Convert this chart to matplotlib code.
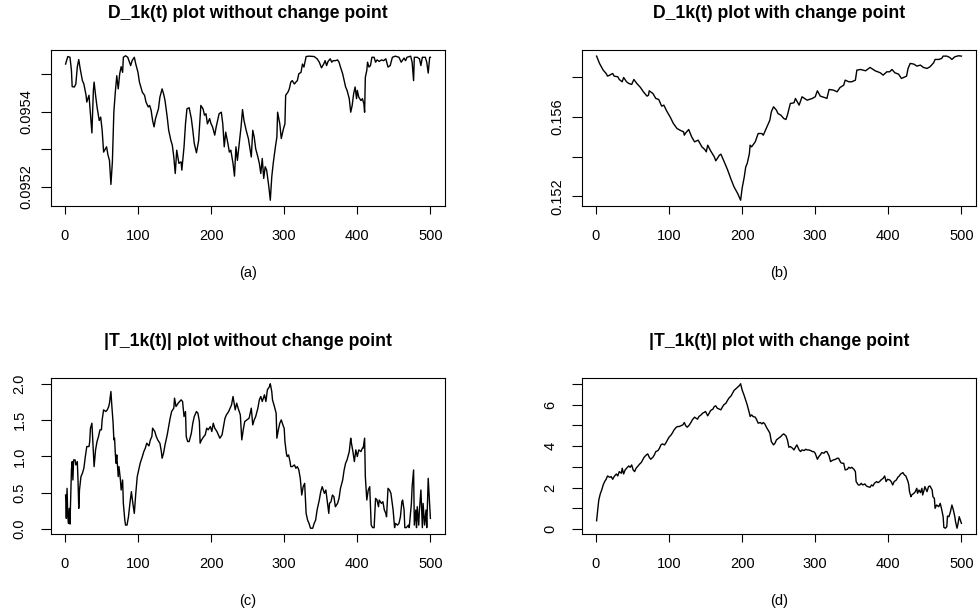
import numpy as np
import matplotlib
matplotlib.use('Agg')
import matplotlib.pyplot as plt

plt.rcParams['font.family'] = ['Liberation Sans', 'DejaVu Sans']

# (a) D_1k(t) without change point
t_a = [1, 4, 7, 9, 10, 13, 15, 17, 19, 21,
       24, 26, 29, 30, 33, 35, 37, 39, 40, 42,
       44, 47, 49, 51, 53, 57, 59, 61, 63, 65,
       67, 69, 71, 73, 75, 77, 79, 80, 83, 86,
       90, 92, 95, 97, 100, 102, 106, 109, 111, 114,
       116, 118, 120, 122, 124, 126, 128, 130, 133, 135,
       137, 140, 142, 145, 147, 149, 151, 153, 156, 159,
       160, 163, 165, 167, 170, 173, 175, 177, 180, 183,
       186, 189, 191, 193, 195, 198, 200, 202, 205, 207,
       209, 211, 214, 216, 218, 220, 223, 225, 227, 230,
       232, 234, 236, 239, 241, 243, 245, 248, 251, 255,
       257, 259, 261, 264, 266, 268, 270, 272, 274, 276,
       279, 281, 283, 285, 288, 290, 291, 294, 296, 299,
       301, 302, 305, 307, 309, 311, 314, 316, 318, 320,
       323, 325, 327, 330, 334, 341, 345, 348, 351, 354,
       356, 358, 360, 363, 365, 367, 370, 373, 375, 377,
       380, 382, 384, 386, 389, 391, 393, 395, 397, 399,
       400, 402, 405, 407, 409, 410, 411, 413, 414, 416,
       418, 420, 423, 425, 427, 430, 433, 436, 439, 442,
       445, 448, 452, 457, 460, 464, 466, 468, 473, 475,
       477, 478, 482, 485, 487, 489, 493, 495, 497, 499,
       500]
d_a = [0.095527, 0.095547, 0.095545, 0.095510, 0.095467, 0.095466, 0.095474, 0.095519, 0.095539, 0.095514,
       0.095483, 0.095474, 0.095444, 0.095426, 0.095444, 0.095395, 0.095344, 0.095457, 0.095479, 0.095444,
       0.095413, 0.095377, 0.095386, 0.095351, 0.095293, 0.095307, 0.095285, 0.095271, 0.095207, 0.095267,
       0.095399, 0.095452, 0.095496, 0.095461, 0.095501, 0.095520, 0.095505, 0.095545, 0.095549, 0.095545,
       0.095523, 0.095536, 0.095545, 0.095527, 0.095505, 0.095479, 0.095452, 0.095444, 0.095426, 0.095413,
       0.095417, 0.095404, 0.095377, 0.095360, 0.095382, 0.095395, 0.095408, 0.095439, 0.095461, 0.095448,
       0.095430, 0.095386, 0.095351, 0.095324, 0.095311, 0.095280, 0.095236, 0.095298, 0.095263, 0.095267,
       0.095245, 0.095307, 0.095368, 0.095408, 0.095411, 0.095382, 0.095351, 0.095316, 0.095291, 0.095324,
       0.095417, 0.095408, 0.095391, 0.095395, 0.095368, 0.095382, 0.095368, 0.095360, 0.095338, 0.095360,
       0.095377, 0.095395, 0.095399, 0.095368, 0.095307, 0.095346, 0.095316, 0.095293, 0.095298, 0.095263,
       0.095229, 0.095307, 0.095271, 0.095324, 0.095360, 0.095406, 0.095377, 0.095351, 0.095329, 0.095280,
       0.095351, 0.095333, 0.095302, 0.095280, 0.095263, 0.095236, 0.095276, 0.095223, 0.095254, 0.095245,
       0.095201, 0.095165, 0.095227, 0.095263, 0.095307, 0.095333, 0.095399, 0.095368, 0.095329, 0.095355,
       0.095368, 0.095444, 0.095452, 0.095461, 0.095479, 0.095483, 0.095474, 0.095479, 0.095483, 0.095501,
       0.095505, 0.095527, 0.095519, 0.095547, 0.095548, 0.095547, 0.095541, 0.095532, 0.095517, 0.095527,
       0.095536, 0.095523, 0.095534, 0.095541, 0.095532, 0.095536, 0.095536, 0.095538, 0.095532, 0.095519,
       0.095501, 0.095483, 0.095466, 0.095457, 0.095435, 0.095399, 0.095417, 0.095448, 0.095466, 0.095435,
       0.095457, 0.095439, 0.095430, 0.095435, 0.095421, 0.095399, 0.095492, 0.095510, 0.095532, 0.095519,
       0.095523, 0.095545, 0.095545, 0.095532, 0.095538, 0.095534, 0.095538, 0.095536, 0.095541, 0.095519,
       0.095523, 0.095545, 0.095548, 0.095545, 0.095532, 0.095543, 0.095536, 0.095545, 0.095548, 0.095532,
       0.095483, 0.095545, 0.095545, 0.095541, 0.095523, 0.095545, 0.095545, 0.095532, 0.095503, 0.095545,
       0.095545]

# (b) D_1k(t) with change point
t_b = [1, 5, 10, 14, 16, 19, 23, 25, 30, 32,
       36, 38, 42, 45, 49, 52, 56, 61, 65, 70,
       72, 73, 78, 82, 86, 90, 93, 97, 102, 106,
       111, 115, 120, 121, 123, 127, 131, 135, 140, 145,
       149, 151, 153, 157, 162, 164, 169, 171, 175, 180,
       185, 189, 194, 198, 200, 203, 205, 207, 210, 211,
       213, 218, 222, 227, 229, 234, 238, 240, 243, 247,
       249, 253, 257, 260, 262, 266, 271, 273, 278, 282,
       289, 296, 300, 303, 307, 314, 316, 319, 325, 330,
       334, 339, 341, 346, 350, 355, 357, 362, 369, 375,
       382, 389, 393, 398, 402, 405, 409, 414, 418, 423,
       425, 427, 430, 435, 439, 444, 448, 453, 457, 462,
       464, 469, 473, 475, 480, 484, 487, 491, 496, 500]
d_b = [0.159078, 0.158708, 0.158371, 0.158202, 0.158067, 0.158118, 0.158202, 0.158067, 0.158034, 0.157899,
       0.157781, 0.158000, 0.157781, 0.157697, 0.157646, 0.157899, 0.157697, 0.157494, 0.157275, 0.157056,
       0.157107, 0.157326, 0.157191, 0.156938, 0.156888, 0.156551, 0.156601, 0.156298, 0.155978, 0.155675,
       0.155422, 0.155338, 0.155253, 0.155085, 0.155203, 0.155371, 0.155001, 0.154748, 0.154832, 0.154495,
       0.154360, 0.154242, 0.154579, 0.154293, 0.153990, 0.153788, 0.154074, 0.154125, 0.153788, 0.153349,
       0.152844, 0.152473, 0.152136, 0.151799, 0.152389, 0.152979, 0.153484, 0.153653, 0.154158, 0.154579,
       0.154495, 0.154748, 0.155169, 0.155169, 0.155085, 0.155506, 0.155843, 0.156264, 0.156517, 0.156349,
       0.156180, 0.156096, 0.155927, 0.155877, 0.156096, 0.156686, 0.156719, 0.156938, 0.156601, 0.157023,
       0.156854, 0.156938, 0.157023, 0.157326, 0.157056, 0.156972, 0.156938, 0.157393, 0.157360, 0.157275,
       0.157494, 0.157612, 0.157865, 0.157781, 0.157781, 0.157865, 0.158371, 0.158404, 0.158337, 0.158506,
       0.158337, 0.158236, 0.158118, 0.158286, 0.158286, 0.158404, 0.158236, 0.158169, 0.157949, 0.158034,
       0.158067, 0.158455, 0.158708, 0.158674, 0.158573, 0.158624, 0.158506, 0.158455, 0.158539, 0.158741,
       0.158910, 0.158910, 0.158960, 0.159078, 0.159078, 0.159011, 0.158910, 0.159045, 0.159095, 0.159078]

# (c) |T_1k(t)| without change point
t_c = [1, 2, 3, 4, 5, 6, 7, 8, 9, 10,
       11, 12, 14, 15, 17, 18, 19, 20, 22, 24,
       26, 28, 30, 33, 34, 35, 37, 39, 40, 42,
       44, 46, 48, 50, 51, 53, 56, 58, 60, 61,
       63, 64, 66, 67, 68, 69, 70, 71, 73, 74,
       76, 77, 79, 80, 82, 83, 85, 87, 89, 91,
       93, 95, 97, 99, 101, 103, 106, 108, 110, 112,
       115, 117, 119, 120, 123, 125, 127, 130, 132, 133,
       135, 137, 140, 142, 144, 146, 149, 150, 152, 155,
       157, 159, 161, 163, 165, 166, 168, 170, 173, 175,
       177, 180, 182, 184, 185, 187, 190, 192, 194, 196,
       199, 201, 203, 205, 208, 210, 212, 215, 217, 219,
       221, 224, 226, 228, 230, 233, 235, 237, 240, 242,
       244, 246, 249, 252, 255, 257, 259, 261, 264, 266,
       268, 270, 273, 275, 277, 280, 281, 283, 284, 286,
       289, 290, 292, 294, 296, 299, 300, 301, 303, 304,
       306, 308, 309, 311, 314, 316, 318, 320, 322, 324,
       326, 328, 330, 332, 334, 336, 339, 341, 343, 345,
       348, 350, 352, 355, 357, 359, 361, 362, 364, 366,
       368, 370, 373, 375, 377, 380, 382, 384, 386, 389,
       391, 392, 394, 396, 398, 400, 402, 405, 407, 408,
       410, 411, 413, 415, 417, 419, 421, 423, 425, 427,
       429, 430, 433, 435, 437, 439, 440, 442, 444, 446,
       449, 451, 452, 455, 457, 459, 461, 462, 464, 465,
       467, 470, 471, 474, 475, 477, 478, 480, 481, 482,
       484, 485, 487, 489, 490, 492, 494, 495, 497, 500]
T_c = [0.469, 0.147, 0.561, 0.170, 0.078, 0.285, 0.069, 0.446, 0.814, 0.929,
       0.676, 0.952, 0.952, 0.883, 0.929, 0.676, 0.285, 0.538, 0.722, 0.768,
       0.837, 0.998, 1.136, 1.136, 1.205, 1.389, 1.457, 1.044, 0.860, 1.090,
       1.205, 1.274, 1.366, 1.366, 1.503, 1.641, 1.618, 1.641, 1.687, 1.733,
       1.894, 1.733, 1.457, 1.228, 1.251, 1.044, 0.906, 1.021, 0.722, 0.860,
       0.676, 0.538, 0.676, 0.354, 0.124, 0.055, 0.055, 0.170, 0.354, 0.515,
       0.354, 0.216, 0.492, 0.722, 0.814, 0.906, 0.998, 1.067, 1.113, 1.182,
       1.145, 1.228, 1.274, 1.389, 1.343, 1.274, 1.228, 1.182, 1.067, 0.975,
       1.044, 1.159, 1.297, 1.411, 1.526, 1.618, 1.664, 1.802, 1.687, 1.733,
       1.756, 1.779, 1.756, 1.549, 1.618, 1.274, 1.205, 1.205, 1.320, 1.457,
       1.549, 1.618, 1.595, 1.480, 1.182, 1.228, 1.274, 1.297, 1.389, 1.366,
       1.411, 1.343, 1.457, 1.389, 1.343, 1.297, 1.251, 1.297, 1.411, 1.526,
       1.572, 1.618, 1.664, 1.710, 1.825, 1.641, 1.733, 1.664, 1.572, 1.228,
       1.366, 1.480, 1.503, 1.526, 1.664, 1.434, 1.503, 1.549, 1.664, 1.779,
       1.825, 1.756, 1.848, 1.756, 1.917, 1.963, 2.000, 1.894, 1.779, 1.710,
       1.595, 1.251, 1.366, 1.457, 1.503, 1.411, 1.389, 1.205, 1.044, 0.998,
       1.021, 0.929, 0.860, 0.860, 0.883, 0.837, 0.860, 0.814, 0.699, 0.469,
       0.584, 0.630, 0.216, 0.124, 0.078, 0.012, 0.012, 0.078, 0.124, 0.262,
       0.400, 0.515, 0.584, 0.492, 0.538, 0.377, 0.216, 0.354, 0.377, 0.469,
       0.446, 0.308, 0.354, 0.423, 0.561, 0.676, 0.814, 0.906, 0.952, 1.067,
       1.251, 1.182, 1.067, 0.929, 1.090, 0.998, 1.090, 1.067, 1.113, 1.113,
       1.251, 0.722, 0.400, 0.538, 0.584, 0.055, 0.020, 0.020, 0.423, 0.400,
       0.308, 0.400, 0.354, 0.377, 0.262, 0.216, 0.170, 0.561, 0.538, 0.492,
       0.262, 0.020, 0.078, 0.055, 0.078, 0.170, 0.377, 0.400, 0.262, 0.020,
       0.020, 0.055, 0.020, 0.354, 0.584, 0.814, 0.055, 0.262, 0.020, 0.308,
       0.055, 0.262, 0.538, 0.020, 0.354, 0.055, 0.262, 0.020, 0.699, 0.147]

# (d) |T_1k(t)| with change point
t_d = [1, 2, 3, 4, 6, 8, 10, 12, 14, 16,
       19, 21, 23, 25, 28, 30, 32, 35, 36, 38,
       40, 42, 45, 47, 49, 51, 53, 55, 57, 60,
       62, 64, 66, 69, 71, 73, 75, 78, 80, 82,
       85, 87, 89, 91, 94, 96, 98, 100, 103, 105,
       107, 110, 112, 114, 116, 119, 121, 123, 125, 128,
       130, 132, 135, 137, 139, 141, 144, 146, 148, 150,
       153, 155, 157, 160, 162, 164, 166, 169, 171, 173,
       175, 178, 180, 182, 185, 187, 189, 191, 194, 196,
       198, 200, 203, 205, 207, 210, 211, 213, 215, 218,
       220, 222, 225, 227, 229, 231, 234, 236, 238, 240,
       243, 245, 247, 250, 253, 255, 257, 260, 262, 264,
       266, 269, 271, 273, 275, 278, 280, 282, 285, 287,
       289, 291, 294, 296, 298, 300, 303, 305, 307, 309,
       312, 314, 316, 319, 321, 323, 325, 328, 330, 332,
       335, 337, 339, 341, 344, 346, 348, 350, 353, 355,
       356, 359, 361, 363, 365, 368, 370, 372, 375, 377,
       379, 381, 384, 386, 388, 390, 393, 395, 397, 399,
       402, 404, 406, 408, 411, 413, 415, 417, 420, 422,
       424, 427, 428, 429, 431, 432, 435, 437, 439, 440,
       442, 444, 446, 447, 449, 450, 453, 455, 457, 460,
       461, 463, 464, 466, 469, 471, 473, 475, 476, 478,
       480, 481, 483, 485, 487, 489, 491, 492, 494, 495,
       497, 500]
T_d = [0.400, 0.757, 1.079, 1.401, 1.691, 1.884, 2.126, 2.287, 2.399, 2.560,
       2.496, 2.528, 2.399, 2.528, 2.657, 2.560, 2.770, 2.689, 2.931, 2.657,
       2.850, 2.931, 3.043, 2.979, 3.092, 2.850, 2.770, 2.931, 3.011, 3.140,
       3.204, 3.333, 3.462, 3.575, 3.623, 3.462, 3.366, 3.462, 3.575, 3.736,
       3.784, 3.897, 4.058, 4.106, 4.058, 4.171, 4.300, 4.428, 4.541, 4.654,
       4.783, 4.911, 4.944, 4.944, 4.976, 5.024, 5.137, 4.976, 4.911, 5.024,
       5.137, 5.266, 5.395, 5.346, 5.298, 5.427, 5.507, 5.588, 5.620, 5.668,
       5.459, 5.588, 5.717, 5.781, 5.910, 5.942, 5.829, 5.781, 5.749, 5.878,
       5.990, 6.071, 6.200, 6.312, 6.425, 6.554, 6.683, 6.747, 6.844, 6.908,
       7.005, 6.715, 6.425, 6.200, 5.990, 5.588, 5.427, 5.507, 5.427, 5.395,
       5.266, 5.105, 5.137, 5.072, 5.137, 5.072, 4.863, 4.750, 4.622, 4.219,
       4.058, 4.138, 4.300, 4.380, 4.461, 4.541, 4.589, 4.493, 4.300, 3.945,
       3.977, 3.897, 3.816, 3.945, 4.058, 3.816, 3.736, 3.816, 3.784, 3.849,
       3.816, 3.816, 3.784, 3.736, 3.736, 3.655, 3.366, 3.494, 3.575, 3.688,
       3.655, 3.736, 3.736, 3.527, 3.253, 3.301, 3.333, 3.366, 3.414, 3.414,
       3.204, 3.172, 3.172, 2.850, 2.882, 2.979, 2.931, 2.979, 2.882, 2.770,
       2.287, 2.126, 2.126, 2.206, 2.126, 2.174, 2.077, 2.045, 2.013, 2.126,
       2.077, 2.206, 2.287, 2.238, 2.287, 2.367, 2.448, 2.560, 2.287, 2.399,
       2.367, 2.287, 2.126, 2.287, 2.367, 2.496, 2.560, 2.657, 2.721, 2.609,
       2.560, 2.287, 2.126, 1.804, 1.562, 1.643, 1.723, 1.804, 1.965, 1.723,
       1.884, 1.755, 1.965, 1.643, 1.884, 2.045, 1.804, 2.045, 2.077, 1.884,
       1.562, 1.481, 0.998, 1.159, 1.079, 1.240, 0.950, 0.596, 0.081, 0.040,
       0.113, 0.628, 0.596, 0.837, 1.159, 0.918, 0.596, 0.354, 0.040, 0.193,
       0.596, 0.274]

titles = ['D_1k(t) plot without change point', 'D_1k(t) plot with change point',
          '|T_1k(t)| plot without change point', '|T_1k(t)| plot with change point']
sub_labels = ['(a)', '(b)', '(c)', '(d)']
x_ticks = [0, 100, 200, 300, 400, 500]
y_ticks = [[0.0952, 0.0953, 0.0954, 0.0955],
           [0.152, 0.154, 0.156, 0.158],
           [0.0, 0.5, 1.0, 1.5, 2.0],
           [0, 1, 2, 3, 4, 5, 6, 7]]
y_tick_labels = [['0.0952', '', '0.0954', ''],
                 ['0.152', '', '0.156', ''],
                 ['0.0', '0.5', '1.0', '1.5', '2.0'],
                 ['0', '', '2', '', '4', '', '6', '']]

W, H = 980, 616
fig = plt.figure(figsize=(W / 100, H / 100), dpi=100)

# panel boxes in pixels: left, top, width, height
boxes = [(51, 50, 394, 156), (582, 50, 394, 156),
         (51, 378, 394, 156), (582, 378, 394, 156)]
series = [(t_a, d_a), (t_b, d_b), (t_c, T_c), (t_d, T_d)]
y_pads = [5, 5, 10, 10]


def r_range(v):
    lo, hi = min(v), max(v)
    pad = 0.04 * (hi - lo)
    return lo - pad, hi + pad


for i, (box, (tx, ty)) in enumerate(zip(boxes, series)):
    l, t, w, h = box
    ax = fig.add_axes([l / W, 1 - (t + h) / H, w / W, h / H])
    ax.plot(tx, ty, color='black', lw=1.0)
    ax.set_xlim(*r_range(tx))
    ax.set_ylim(*r_range(ty))
    ax.set_xticks(x_ticks)
    ax.set_xticklabels([str(v) for v in x_ticks])
    ax.set_yticks(y_ticks[i])
    ax.set_yticklabels(y_tick_labels[i], rotation=90, va='center')
    ax.tick_params(axis='x', length=5.8, width=0.8, pad=10.5, labelsize=10.5)
    ax.tick_params(axis='y', length=7.5, width=0.8, pad=y_pads[i], labelsize=10.5)
    for sp in ax.spines.values():
        sp.set_linewidth(0.8)
    cx = (l + w / 2) / W
    fig.text(cx, 1 - (t - 37) / H, titles[i], ha='center', va='center',
             fontsize=12.7, fontweight='bold')
    fig.text(cx, 1 - (t + h + 67) / H, sub_labels[i], ha='center', va='center',
             fontsize=10.5)

fig.savefig('out.png', dpi=100)
